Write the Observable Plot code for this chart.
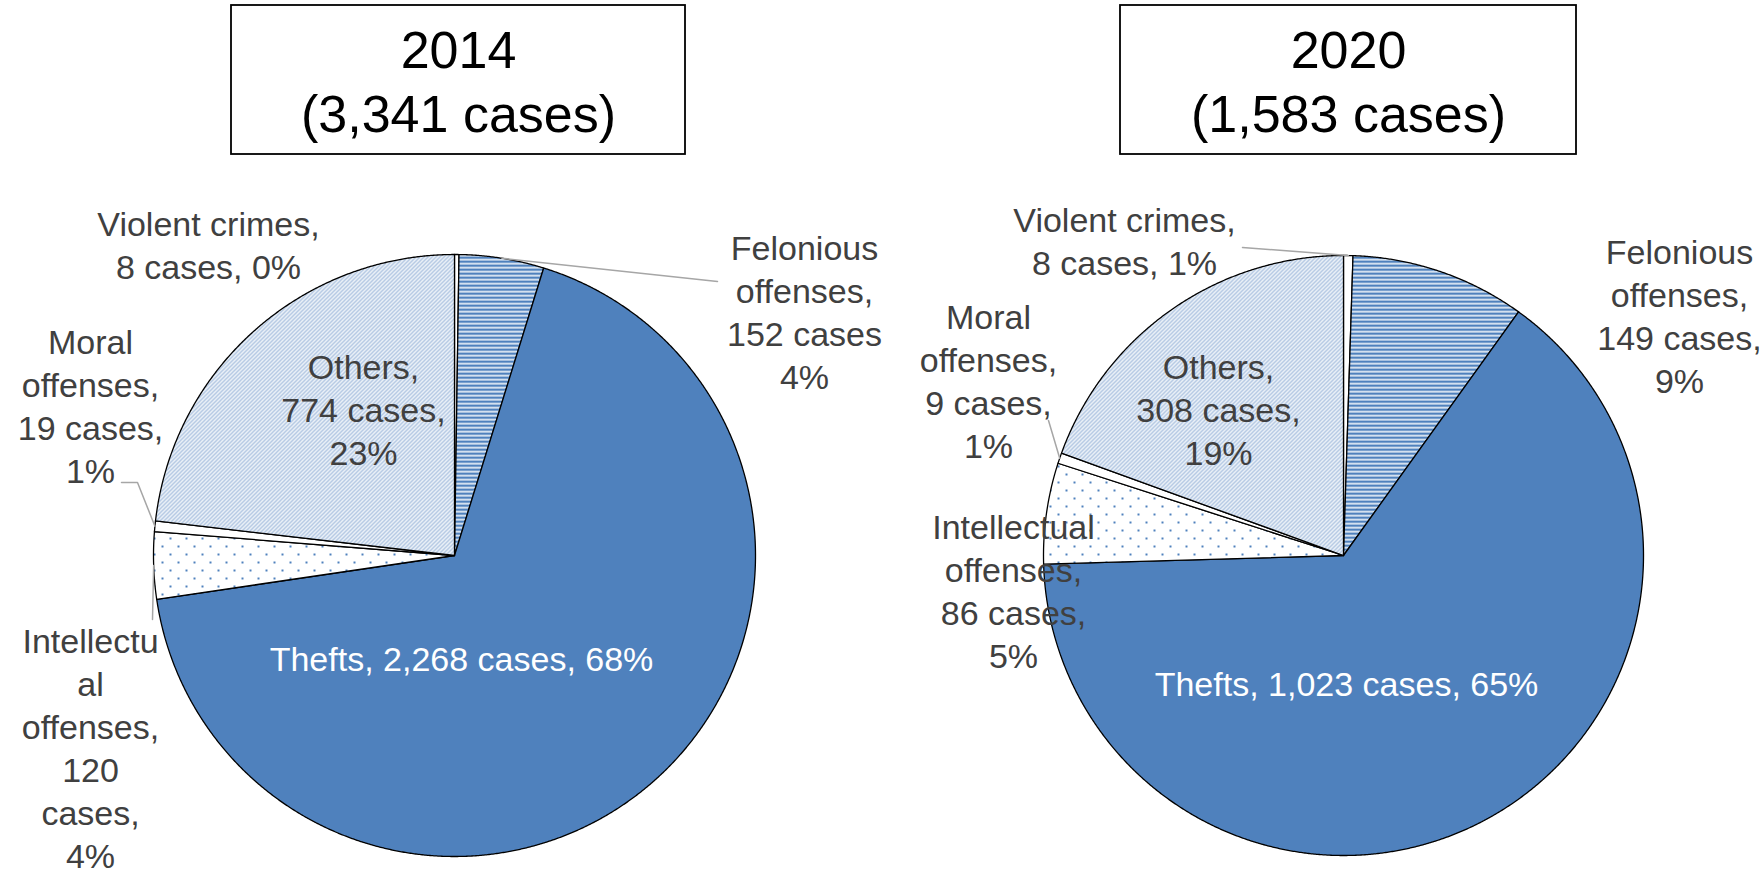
<!DOCTYPE html>
<html><head><meta charset="utf-8">
<script src="https://cdn.jsdelivr.net/npm/d3@7"></script>
<script src="https://cdn.jsdelivr.net/npm/@observablehq/plot@0.6"></script>
<style>html,body{margin:0;padding:0;background:#fff;} #chart{width:1764px;height:875px;}</style>
</head><body><div id="chart"></div>
<script>
// ---------------- DATA ----------------
const years = ["2014", "2020"];
const totalLabels = ["(3,341 cases)", "(1,583 cases)"];
const categories = ["Violent crimes", "Felonious offenses", "Thefts", "Intellectual offenses", "Moral offenses", "Others"];
const cases2014 = [8, 152, 2268, 120, 19, 774];
const cases2020 = [8, 149, 1023, 86, 9, 308];
const labels2014 = [
  "Violent crimes,\n8 cases, 0%",
  "Felonious\noffenses,\n152 cases\n4%",
  "Thefts, 2,268 cases, 68%",
  "Intellectu\nal\noffenses,\n120\ncases,\n4%",
  "Moral\noffenses,\n19 cases,\n1%",
  "Others,\n774 cases,\n23%"
];
const labels2020 = [
  "Violent crimes,\n8 cases, 1%",
  "Felonious\noffenses,\n149 cases,\n9%",
  "Thefts, 1,023 cases, 65%",
  "Intellectual\noffenses,\n86 cases,\n5%",
  "Moral\noffenses,\n9 cases,\n1%",
  "Others,\n308 cases,\n19%"
];

// ---------------- STYLE ----------------
const sliceFill = {
  "Violent crimes": "white",
  "Felonious offenses": "url(#pat-felon)",
  "Thefts": "#4F81BD",
  "Intellectual offenses": "url(#pat-intel)",
  "Moral offenses": "white",
  "Others": "url(#pat-others)"
};
const labelColor = c => c === "Thefts" ? "white" : "#404040";
const FONT = "'Liberation Sans', Arial, Helvetica, sans-serif";
const labelFont = 34, labelLead = 43, titleFont = 52;

// ---------------- LAYOUT ----------------
const W = 1764, H = 875;
const pieLayout = {"2014": {cx: 454, cy: 555, r: 301}, "2020": {cx: 1343, cy: 555, r: 300}};
const titleBox = {"2014": {x1: 231, x2: 685}, "2020": {x1: 1120, x2: 1576}};
const titleTop = 5, titleBottom = 154, titleBaselines = [67, 131];
// label anchor: center x offset and first baseline offset from the pie centre
const labelAnchor = {
  "2014": {
    "Violent crimes": [-246, -320], "Felonious offenses": [350, -296], "Thefts": [7, 115],
    "Intellectual offenses": [-364, 97], "Moral offenses": [-364, -202], "Others": [-91, -177]
  },
  "2020": {
    "Violent crimes": [-219, -324], "Felonious offenses": [336, -292], "Thefts": [3, 140],
    "Intellectual offenses": [-330, -17], "Moral offenses": [-355, -227], "Others": [-125, -177]
  }
};
// leader line bend/end points (offsets from pie centre), starting at the slice's arc midpoint
const leaderLayout = [
  {year: "2014", cat: "Felonious offenses", pts: [[263, -274]]},
  {year: "2014", cat: "Moral offenses", pts: [[-317, -73], [-333, -73]]},
  {year: "2014", cat: "Intellectual offenses", pts: [[-302, 64]]},
  {year: "2020", cat: "Violent crimes", pts: [[-101, -308]]},
  {year: "2020", cat: "Moral offenses", pts: [[-295, -135]]}
];

// ---------------- BUILD ROWS ----------------
const valuesByYear = {"2014": cases2014, "2020": cases2020};
const labelsByYear = {"2014": labels2014, "2020": labels2020};
const arcsByYear = {};
const sliceRows = [];
years.forEach(year => {
  const {cx, cy, r} = pieLayout[year];
  const arcs = d3.pie().sort(null).value(d => d.v)(categories.map((c, i) => ({c, v: valuesByYear[year][i]})));
  arcsByYear[year] = arcs;
  arcs.forEach(a => {
    const key = year + "|" + a.data.c;
    const fill = sliceFill[a.data.c];
    sliceRows.push({key, fill, x: cx, y: cy});
    const n = Math.max(2, Math.ceil((a.endAngle - a.startAngle) / (Math.PI / 720)));
    for (let k = 0; k <= n; k++) {
      const t = a.startAngle + (a.endAngle - a.startAngle) * k / n;
      sliceRows.push({key, fill, x: cx + r * Math.sin(t), y: cy - r * Math.cos(t)});
    }
    sliceRows.push({key, fill, x: cx, y: cy});
  });
});

const leaderRows = [];
leaderLayout.forEach(L => {
  const {cx, cy, r} = pieLayout[L.year];
  const a = arcsByYear[L.year].find(d => d.data.c === L.cat);
  const m = (a.startAngle + a.endAngle) / 2;
  const key = L.year + "|" + L.cat;
  leaderRows.push({key, x: cx + r * Math.sin(m), y: cy - r * Math.cos(m)});
  L.pts.forEach(([dx, dy]) => leaderRows.push({key, x: cx + dx, y: cy + dy}));
});

const labelRows = [];
years.forEach(year => {
  const {cx, cy} = pieLayout[year];
  categories.forEach((c, i) => {
    const [dx, dy] = labelAnchor[year][c];
    labelsByYear[year][i].split("\n").forEach((line, j) => {
      labelRows.push({x: cx + dx, y: cy + dy + j * labelLead - 0.32 * labelFont, text: line, fill: labelColor(c)});
    });
  });
});

const titleRows = years.map(year => ({year, ...titleBox[year], y1: titleTop, y2: titleBottom}));
const titleTextRows = [];
years.forEach((year, i) => {
  const xc = (titleBox[year].x1 + titleBox[year].x2) / 2;
  [year, totalLabels[i]].forEach((t, j) => titleTextRows.push({x: xc, y: titleBaselines[j] - 0.32 * titleFont, text: t}));
});

// ---------------- PLOT ----------------
const svg = Plot.plot({
  width: W, height: H,
  margin: 0, marginTop: 0, marginRight: 0, marginBottom: 0, marginLeft: 0,
  x: {domain: [0, W], range: [0, W], axis: null},
  y: {domain: [0, H], range: [0, H], axis: null},
  color: {type: "identity"},
  style: {fontFamily: FONT, background: "white", overflow: "visible"},
  marks: [
    Plot.line(sliceRows, {x: "x", y: "y", z: "key", fill: "fill", stroke: "#000", strokeWidth: 1.3, strokeLinejoin: "round", curve: "linear"}),
    Plot.line(leaderRows, {x: "x", y: "y", z: "key", stroke: "#A6A6A6", strokeWidth: 1.5, curve: "linear"}),
    Plot.text(labelRows, {x: "x", y: "y", text: "text", fill: "fill", fontSize: labelFont, textAnchor: "middle"}),
    Plot.rect(titleRows, {x1: "x1", x2: "x2", y1: "y1", y2: "y2", fill: "white", stroke: "#000", strokeWidth: 1.8}),
    Plot.text(titleTextRows, {x: "x", y: "y", text: "text", fill: "#000", fontSize: titleFont, textAnchor: "middle"})
  ]
});

svg.insertAdjacentHTML("afterbegin", `
<defs>
  <pattern id="pat-felon" patternUnits="userSpaceOnUse" width="8" height="4">
    <rect width="8" height="4" fill="white"/>
    <rect y="0" width="8" height="2.5" fill="#4F81BD"/>
  </pattern>
  <pattern id="pat-others" patternUnits="userSpaceOnUse" width="4" height="4">
    <rect width="4" height="4" fill="white"/>
    <path d="M-1,1 l2,-2 M0,4 l4,-4 M3,5 l2,-2" stroke="#9DB8DB" stroke-width="1.3"/>
  </pattern>
  <pattern id="pat-intel" patternUnits="userSpaceOnUse" width="16" height="16">
    <rect width="16" height="16" fill="white"/>
    <rect x="1" y="1" width="2" height="2" fill="#4F81BD"/>
    <rect x="9" y="9" width="2" height="2" fill="#4F81BD"/>
  </pattern>
</defs>`);

document.getElementById("chart").appendChild(svg);
</script>
</body></html>
